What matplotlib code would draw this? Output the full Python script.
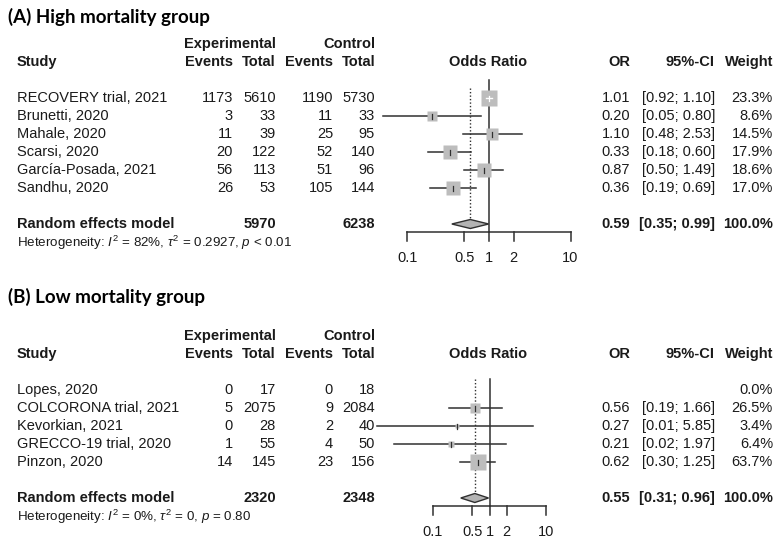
import numpy as np
import matplotlib
matplotlib.use("Agg")
import matplotlib.pyplot as plt
from matplotlib.patches import Polygon

plt.rcParams['font.family'] = ['Liberation Sans', 'DejaVu Sans']
plt.rcParams['mathtext.fontset'] = 'custom'
plt.rcParams['mathtext.rm'] = 'Liberation Sans'
plt.rcParams['mathtext.it'] = 'Liberation Sans:italic'
plt.rcParams['mathtext.bf'] = 'Liberation Sans:bold'

# ---------------- data ----------------
title_A = "(A) High mortality group"
studies_A = ["RECOVERY trial, 2021", "Brunetti, 2020", "Mahale, 2020", "Scarsi, 2020",
             "García-Posada, 2021", "Sandhu, 2020"]
exp_events_A = [1173, 3, 11, 20, 56, 26]
exp_total_A = [5610, 33, 39, 122, 113, 53]
ctl_events_A = [1190, 11, 25, 52, 51, 105]
ctl_total_A = [5730, 33, 95, 140, 96, 144]
or_A = [1.01, 0.20, 1.10, 0.33, 0.87, 0.36]
lo_A = [0.92, 0.05, 0.48, 0.18, 0.50, 0.19]
hi_A = [1.10, 0.80, 2.53, 0.60, 1.49, 0.69]
weight_A = [23.3, 8.6, 14.5, 17.9, 18.6, 17.0]
re_A = dict(exp_total=5970, ctl_total=6238, est=0.59, lo=0.35, hi=0.99, weight=100.0)
het_A = r"Heterogeneity: $I^2$ = 82%, $\tau^2$ = 0.2927, $p$ < 0.01"

title_B = "(B) Low mortality group"
studies_B = ["Lopes, 2020", "COLCORONA trial, 2021", "Kevorkian, 2021",
             "GRECCO-19 trial, 2020", "Pinzon, 2020"]
exp_events_B = [0, 5, 0, 1, 14]
exp_total_B = [17, 2075, 28, 55, 145]
ctl_events_B = [0, 9, 2, 4, 23]
ctl_total_B = [18, 2084, 40, 50, 156]
or_B = [np.nan, 0.56, 0.27, 0.21, 0.62]
lo_B = [np.nan, 0.19, 0.01, 0.02, 0.30]
hi_B = [np.nan, 1.66, 5.85, 1.97, 1.25]
weight_B = [0.0, 26.5, 3.4, 6.4, 63.7]
re_B = dict(exp_total=2320, ctl_total=2348, est=0.55, lo=0.31, hi=0.96, weight=100.0)
het_B = r"Heterogeneity: $I^2$ = 0%, $\tau^2$ = 0, $p$ = 0.80"

tick_vals = [0.1, 0.5, 1, 2, 10]
tick_labels = ["0.1", "0.5", "1", "2", "10"]

# ---------------- layout (pixels) ----------------
W, H = 783, 547
fig = plt.figure(figsize=(W / 100, H / 100), dpi=100)
tax = fig.add_axes([0, 0, 1, 1])
tax.set_xlim(0, W)
tax.set_ylim(H, 0)
tax.axis('off')

FS = 10.5
FS_H = 9.6
TXT = '#1a1a1a'
X_STUDY = 17
X_EE, X_ET, X_CE, X_CT = 233, 276, 333, 375
X_OR, X_CI, X_W = 630, 715, 773
X_ODDS = 488
LINE = '#303030'
BOX = '#bdbdbd'


def t(x, y, s, bold=False, ha='left', fs=FS):
    tax.text(x, y, s, fontsize=fs, fontweight='bold' if bold else 'normal', ha=ha, va='center',
             color=TXT)


def panel(title, y_title, y_hdr1, y_hdr2, y_row0, studies, ee, et, ce, ct, ors, los, his, ws,
          re, het, x_one, px_dec, y_line_top, y_dot_top, max_box):
    step = 18
    n = len(studies)
    y_re = y_row0 + (n + 1) * step
    y_het = y_re + 18.5
    y_axis = y_re + 7.5
    y_tick_lab = y_axis + 27

    tax.text(8, y_title, title, fontsize=13.5, fontweight='bold', family=['Lato', 'DejaVu Sans'],
             va='center', ha='left', color='black')
    t(X_ET, y_hdr1, "Experimental", True, 'right')
    t(X_CT, y_hdr1, "Control", True, 'right')
    for x, s, ha in [(X_STUDY, "Study", 'left'), (X_EE, "Events", 'right'), (X_ET, "Total", 'right'),
                     (X_CE, "Events", 'right'), (X_CT, "Total", 'right'), (X_ODDS, "Odds Ratio", 'center'),
                     (X_OR, "OR", 'right'), (X_CI, "95%-CI", 'right'), (X_W, "Weight", 'right')]:
        t(x, y_hdr2, s, True, ha)

    for i in range(n):
        y = y_row0 + i * step
        t(X_STUDY, y, studies[i])
        t(X_EE, y, str(ee[i]), ha='right')
        t(X_ET, y, str(et[i]), ha='right')
        t(X_CE, y, str(ce[i]), ha='right')
        t(X_CT, y, str(ct[i]), ha='right')
        if not np.isnan(ors[i]):
            t(X_OR, y, f"{ors[i]:.2f}", ha='right')
            t(X_CI, y, f"[{los[i]:.2f}; {his[i]:.2f}]", ha='right')
        t(X_W, y, f"{ws[i]:.1f}%", ha='right')

    t(X_STUDY, y_re, "Random effects model", True)
    t(X_ET, y_re, str(re['exp_total']), True, 'right')
    t(X_CT, y_re, str(re['ctl_total']), True, 'right')
    t(X_OR, y_re, f"{re['est']:.2f}", True, 'right')
    t(X_CI, y_re, f"[{re['lo']:.2f}; {re['hi']:.2f}]", True, 'right')
    t(X_W, y_re, f"{re['weight']:.1f}%", True, 'right')
    t(X_STUDY, y_het, het, fs=FS_H)

    # forest axes: log x in OR units, y in pixels
    ax = fig.add_axes([0, 0, 1, 1])
    ax.set_xscale('log')
    ax.set_xlim(10 ** ((0 - x_one) / px_dec), 10 ** ((W - x_one) / px_dec))
    ax.set_ylim(H, 0)
    ax.axis('off')
    ax.patch.set_alpha(0)

    ax.plot([1, 1], [y_line_top, y_axis], color=LINE, lw=1.1)
    ax.plot([re['est'], re['est']], [y_dot_top, y_re - 4], color=LINE, lw=1.0, ls=(0, (1, 1.5)))

    wmax = max(ws)
    for i in range(n):
        if np.isnan(ors[i]):
            continue
        y = y_row0 + i * step
        side = max_box * np.sqrt(ws[i] / wmax)
        inside = (np.log10(ors[i]) - np.log10(los[i])) * px_dec < side / 2 and \
                 (np.log10(his[i]) - np.log10(ors[i])) * px_dec < side / 2
        col = 'white' if inside else LINE
        if not inside:
            ax.plot([los[i], his[i]], [y, y], color=LINE, lw=1.1, zorder=2)
        ax.plot([ors[i]], [y], marker='s', ms=side * 0.72, mfc=BOX, mec='none', zorder=3)
        if inside:
            ax.plot([los[i], his[i]], [y, y], color=col, lw=1.0, zorder=4)
        ax.plot([ors[i], ors[i]], [y - 2.5, y + 2.5], color=col, lw=0.9, zorder=5)

    d = Polygon([[re['lo'], y_re], [re['est'], y_re - 4.5], [re['hi'], y_re], [re['est'], y_re + 4.5]],
                closed=True, facecolor='#b3b3b3', edgecolor=LINE, lw=1.0, zorder=3)
    ax.add_patch(d)

    ax.plot([tick_vals[0], tick_vals[-1]], [y_axis, y_axis], color=LINE, lw=1.1)
    for tv, tl in zip(tick_vals, tick_labels):
        ax.plot([tv, tv], [y_axis, y_axis + 9.5], color=LINE, lw=1.1)
        ax.text(tv, y_tick_lab, tl, fontsize=FS, ha='center', va='center', color=TXT)


panel(title_A, 17, 44, 62, 98, studies_A, exp_events_A, exp_total_A, ctl_events_A, ctl_total_A,
      or_A, lo_A, hi_A, weight_A, re_A, het_A, x_one=489, px_dec=81.5,
      y_line_top=80, y_dot_top=88, max_box=16)
panel(title_B, 297, 336, 354, 390, studies_B, exp_events_B, exp_total_B, ctl_events_B, ctl_total_B,
      or_B, lo_B, hi_B, weight_B, re_B, het_B, x_one=489.5, px_dec=56.5,
      y_line_top=379, y_dot_top=379, max_box=16)

fig.savefig("out.png", dpi=100, facecolor='white')
